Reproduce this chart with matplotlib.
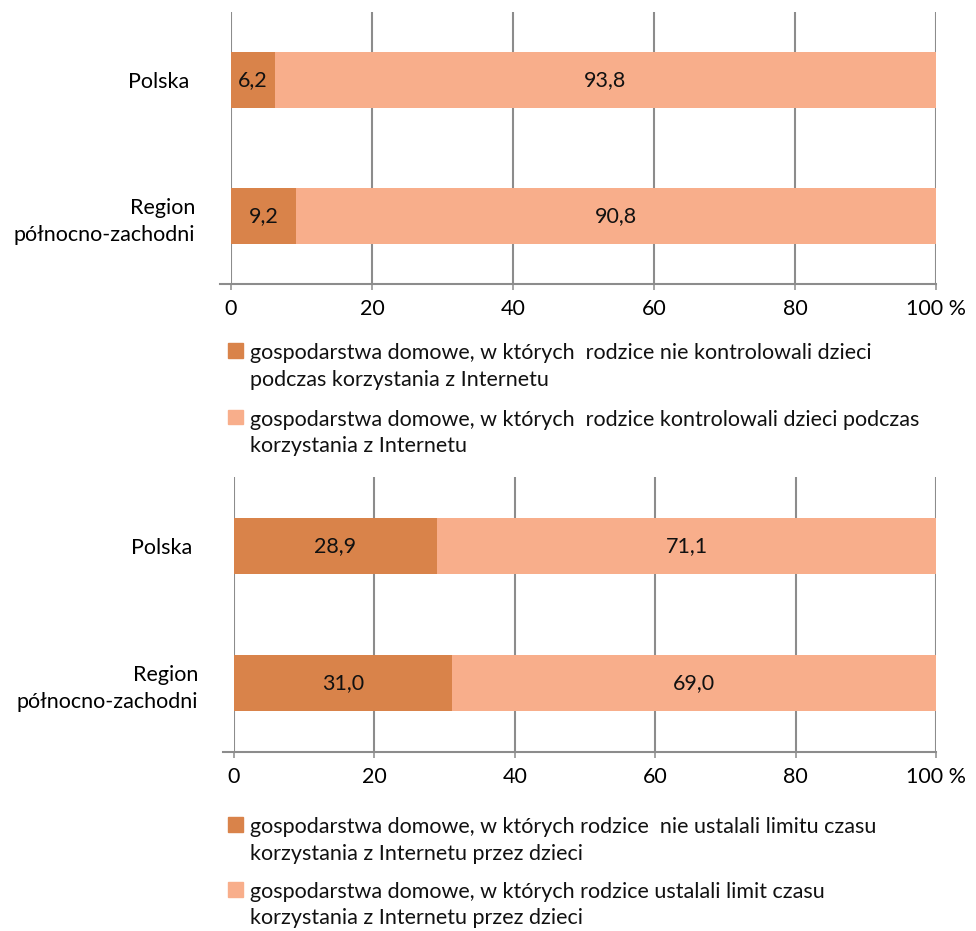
import matplotlib
matplotlib.use("Agg")
import matplotlib.pyplot as plt
from matplotlib.patches import Rectangle

plt.rcParams['font.family'] = ['Lato', 'DejaVu Sans']

categories = ["Polska ", "Region\npółnocno-zachodni"]
chart1_no = [6.2, 9.2]
chart1_yes = [93.8, 90.8]
chart2_no = [28.9, 31.0]
chart2_yes = [71.1, 69.0]
xticks = [0, 20, 40, 60, 80, 100]
xticklabels = ["0", "20", "40", "60", "80", "100 %"]
legend1 = ["gospodarstwa domowe, w których  rodzice nie kontrolowali dzieci\npodczas korzystania z Internetu",
           "gospodarstwa domowe, w których  rodzice kontrolowali dzieci podczas\nkorzystania z Internetu"]
legend2 = ["gospodarstwa domowe, w których rodzice  nie ustalali limitu czasu\nkorzystania z Internetu przez dzieci",
           "gospodarstwa domowe, w których rodzice ustalali limit czasu\nkorzystania z Internetu przez dzieci"]

C_DARK = "#D9834A"
C_LIGHT = "#F8AE8B"
GRID = "#8C8C8C"
FS = 15.5

W, H = 976, 931
fig = plt.figure(figsize=(W / 100, H / 100), dpi=100)


def px_axes(x0, y0, x1, y1):
    return fig.add_axes([x0 / W, 1 - y1 / H, (x1 - x0) / W, (y1 - y0) / H])


def draw_chart(ax, no, yes):
    ypos = [1, 0]
    b1 = ax.barh(ypos, no, height=0.405, color=C_DARK, zorder=3)
    b2 = ax.barh(ypos, yes, left=no, height=0.405, color=C_LIGHT, zorder=3)
    for bars, vals in ((b1, no), (b2, yes)):
        ax.bar_label(bars, labels=[f"{v:.1f}".replace(".", ",") for v in vals],
                     label_type="center", fontsize=FS, color="#111111")
    ax.set_xlim(0, 100)
    ax.set_ylim(-0.5, 1.5)
    ax.set_yticks(ypos)
    ax.set_yticklabels(categories, fontsize=FS, ha="right", multialignment="right",
                       linespacing=1.45)
    ax.tick_params(axis="y", length=0, pad=26)
    ax.set_xticks(xticks)
    ax.set_xticklabels(xticklabels, fontsize=FS)
    ax.tick_params(axis="x", length=4.5, width=1.1, color=GRID, direction="out", pad=6)
    for s in ["top", "right", "left", "bottom"]:
        ax.spines[s].set_visible(False)
    ax.plot([-0.016, 1], [0, 0], transform=ax.transAxes, color=GRID, lw=1.5,
            clip_on=False, zorder=4)
    ax.grid(axis="x", color=GRID, lw=1.5, zorder=0)
    ax.set_axisbelow(True)


ax1 = px_axes(231, 12, 936, 284)
draw_chart(ax1, chart1_no, chart1_yes)
ax2 = px_axes(234, 477, 936, 752)
draw_chart(ax2, chart2_no, chart2_yes)


def draw_legend(labels, y_centers):
    for lab, col, yc in zip(labels, [C_DARK, C_LIGHT], y_centers):
        fig.patches.append(Rectangle((228 / W, 1 - (yc + 7.5) / H), 15 / W, 15 / H,
                                     transform=fig.transFigure, color=col))
        # baseline of the last (second) line
        fig.text(250 / W, 1 - (yc + 35.5) / H, lab, fontsize=FS, va="baseline",
                 ha="left", linespacing=1.42, color="#111111")


draw_legend(legend1, [350.5, 417])
draw_legend(legend2, [824, 889])

fig.savefig("out.png", dpi=100, facecolor="white")
